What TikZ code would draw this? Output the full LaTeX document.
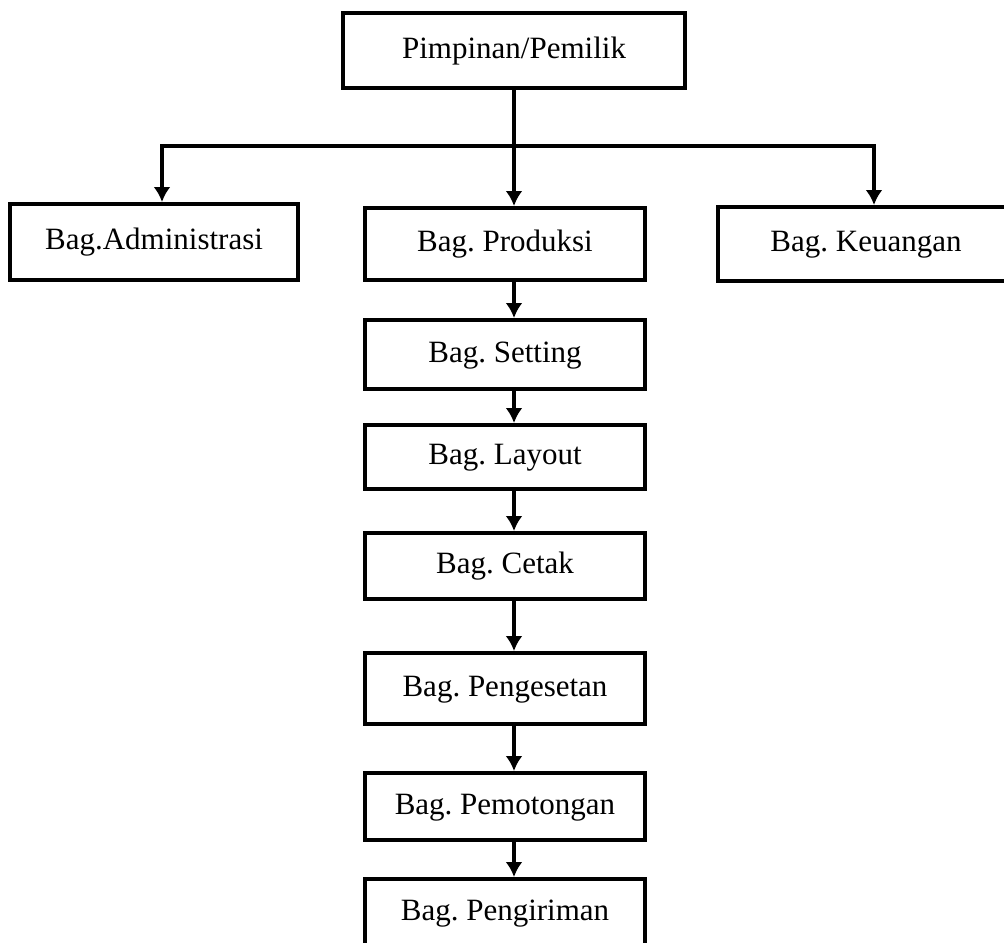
\documentclass[tikz,border=0pt]{standalone}
\usepackage{fontspec}
\setmainfont{Liberation Serif}
\usetikzlibrary{arrows.meta}
\frenchspacing

\begin{document}
\begin{tikzpicture}[x=0.5pt,y=-0.5pt,
                      kotak/.style={draw,line width=2pt,inner sep=0pt,minimum width=140pt,
                        font=\fontsize{15.5}{18}\selectfont,text height=11.5pt,text depth=3.8pt},
                      panah/.style={line width=1.6pt,-{Latex[length=7.5pt,width=8.5pt]}}]
                      \useasboundingbox (0,0) rectangle (1004,942);
                      \node[kotak,minimum width=171pt,minimum height=37.5pt](pimpinan)at(514,50.5){Pimpinan/Pemilik};
                      \node[kotak,minimum width=144pt,minimum height=38pt](admin)at(154,242){Bag.Administrasi};
                      \node[kotak,minimum height=36pt](produksi)at(505,244){Bag. Produksi};
                      \node[kotak,minimum width=148pt,minimum height=37pt](keuangan)at(866,244){Bag. Keuangan};
                      \node[kotak,minimum height=34.5pt](setting)at(505,354.5){Bag. Setting};
                      \node[kotak,minimum height=32pt](layout)at(505,457){Bag. Layout};
                      \node[kotak,minimum height=33pt](cetak)at(505,566){Bag. Cetak};
                      \node[kotak,minimum height=35.5pt](pengesetan)at(505,688.5){Bag. Pengesetan};
                      \node[kotak,minimum height=33.5pt](pemotongan)at(505,806.5){Bag. Pemotongan};
                      \node[kotak,minimum height=34pt](pengiriman)at(505,913){Bag. Pengiriman};
                      \coordinate (kiri) at (162,146);
                      \coordinate (kanan) at (874,146);
                      \draw[line width=1.6pt,{Latex[length=7.5pt,width=8.5pt]}-{Latex[length=7.5pt,width=8.5pt]}]
                        (kiri |- admin.north) -- (kiri) -- (kanan) -- (kanan |- keuangan.north);
                      \draw[panah] (pimpinan.south) -- (pimpinan.south |- produksi.north);
                      \foreach \a/\b in {produksi/setting,setting/layout,layout/cetak,cetak/pengesetan,pengesetan/pemotongan,pemotongan/pengiriman}
                        \draw[panah] (pimpinan.south |- \a.south) -- (pimpinan.south |- \b.north);
                  \end{tikzpicture}
\end{document}
